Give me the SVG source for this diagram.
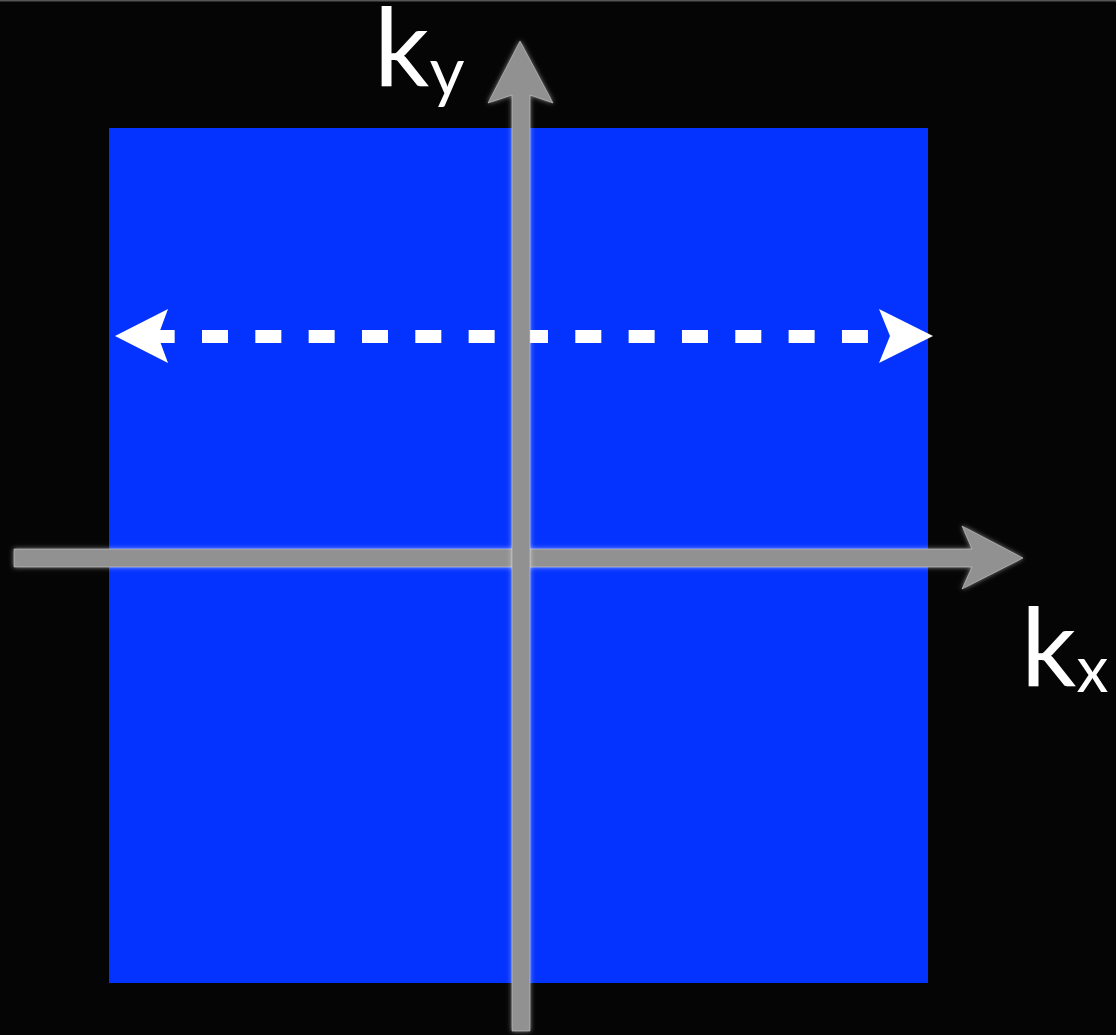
<svg xmlns="http://www.w3.org/2000/svg" width="1116" height="1035" viewBox="0 0 1116 1035">
<style>
.axis{fill:#919191;stroke:#d8d8d8;stroke-width:1;stroke-opacity:0.5}
.lbl{font-family:Lato,"Open Sans","DejaVu Sans",sans-serif;fill:#ffffff}
.dash{stroke:#ffffff;stroke-width:13;fill:none;stroke-dasharray:26 27.33}
.head{fill:#ffffff}
</style>
<defs>
<filter id="glow" x="-10%" y="-10%" width="120%" height="120%">
<feGaussianBlur in="SourceAlpha" stdDeviation="2.5" result="b"/>
<feFlood flood-color="#ffffff" flood-opacity="0.55"/>
<feComposite in2="b" operator="in" result="g"/>
<feMerge><feMergeNode in="g"/><feMergeNode in="SourceGraphic"/></feMerge>
</filter>
</defs>
<rect x="0" y="0" width="1116" height="1035" fill="#050505"/>
<line x1="0" y1="0.75" x2="1116" y2="0.75" stroke="#555555" stroke-width="1.5"/>
<g id="plane">
<rect x="109" y="128" width="819" height="855" fill="#0433ff"/>
</g>
<g id="connectors">
<g id="dashed-arrow">
<path class="dash" d="M148.67 336.5 H869"/>
<polygon class="head" points="115,336 168,309 158,336 168,363"/>
<polygon class="head" points="933,336 879,309 890,336 879,363"/>
</g>
<g id="kx-axis" filter="url(#glow)">
<polygon class="axis" points="14,549 972,549 962,526 1023,558 962,589 972,567 14,567"/>
</g>
<g id="ky-axis" filter="url(#glow)">
<polygon class="axis" points="512,1031 512,95 488,103 520,41 553,103 530,95 530,1031"/>
</g>
</g>
<g id="label-ky">
<text class="lbl" x="374" y="86" font-size="109">k<tspan font-size="68" dy="9">y</tspan></text>
</g>
<g id="label-kx">
<text class="lbl" x="1021" y="686" font-size="109">k<tspan font-size="64" dy="6">x</tspan></text>
</g>
</svg>
